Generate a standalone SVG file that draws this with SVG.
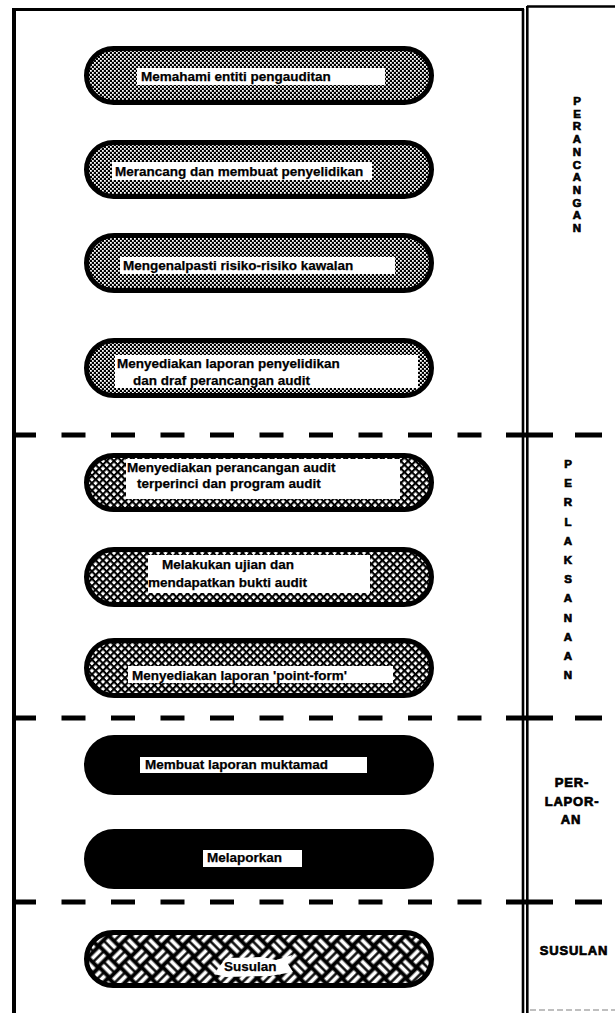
<svg xmlns="http://www.w3.org/2000/svg" width="615" height="1013" viewBox="0 0 615 1013">
  <defs>
    <!-- fine dither used for planning stages -->
    <pattern id="dither" width="4" height="4" patternUnits="userSpaceOnUse">
      <rect width="4" height="4" fill="#000"/>
      <rect x="0" y="0" width="1.8" height="1.8" fill="#fff"/>
      <rect x="2" y="2" width="1.8" height="1.8" fill="#fff"/>
    </pattern>
    <!-- diamond crosshatch used for execution stages -->
    <pattern id="hatch" width="5.2" height="5.2" patternUnits="userSpaceOnUse" patternTransform="rotate(45)">
      <rect width="5.2" height="5.2" fill="#fff"/>
      <rect x="0" y="0" width="5.2" height="2.1" fill="#000"/>
      <rect x="0" y="0" width="2.1" height="5.2" fill="#000"/>
    </pattern>
    <!-- basket weave used for follow-up stage -->
    <pattern id="weave" width="30" height="30" patternUnits="userSpaceOnUse" patternTransform="translate(3,2) rotate(45)">
      <rect width="30" height="30" fill="#000"/>
      <g fill="#fff">
        <rect x="1.5" y="2.5" width="12" height="3.8"/>
        <rect x="1.5" y="8.7" width="12" height="3.8"/>
        <rect x="17.5" y="1.5" width="3.8" height="12"/>
        <rect x="23.7" y="1.5" width="3.8" height="12"/>
        <rect x="2.5" y="16.5" width="3.8" height="12"/>
        <rect x="8.7" y="16.5" width="3.8" height="12"/>
        <rect x="16.5" y="17.5" width="12" height="3.8"/>
        <rect x="16.5" y="23.7" width="12" height="3.8"/>
      </g>
    </pattern>
  </defs>
  <style>
    .pill { stroke: #000; stroke-width: 5; }
    .shadow { fill: #000; }
    .box { fill: #fff; }
    .t { font-family: "Liberation Sans", Arial, sans-serif; font-weight: bold; font-size: 13.5px; fill: #000; stroke: #000; stroke-width: 0.25; }
    .lab { font-family: "Liberation Sans", Arial, sans-serif; font-weight: bold; font-size: 11.5px; fill: #000; stroke: #000; stroke-width: 0.7; text-anchor: middle; }
    .lab2 { font-family: "Liberation Sans", Arial, sans-serif; font-weight: bold; font-size: 13px; letter-spacing: 0.8px; fill: #000; stroke: #000; stroke-width: 0.7; text-anchor: middle; }
    .sep { stroke: #000; stroke-width: 5; }
  </style>

  <rect width="615" height="1013" fill="#fff"/>

  <!-- outer frame and column divider -->
  <g id="frame" fill="none" stroke="#000">
    <line x1="14" y1="8" x2="14" y2="1013" stroke-width="4"/>
    <line x1="12" y1="9.5" x2="524" y2="9.5" stroke-width="3"/>
    <line x1="523" y1="9" x2="523" y2="1013" stroke-width="2.6"/>
    <line x1="527.3" y1="6" x2="527.3" y2="1013" stroke-width="2.6"/>
    <line x1="527" y1="6.5" x2="615" y2="6.5" stroke-width="2.5"/>
    <line x1="530" y1="1010" x2="615" y2="1010" stroke="#aaa" stroke-width="1.5" stroke-dasharray="6 3"/>
  </g>

  <!-- dashed stage separators -->
  <g id="separators">
    <line class="sep" x1="12" y1="435" x2="500" y2="435" stroke-dasharray="24 25.5"/>
    <line class="sep" x1="506" y1="435" x2="553" y2="435"/>
    <line class="sep" x1="575" y1="435" x2="602" y2="435"/>
    <line class="sep" x1="12" y1="718" x2="500" y2="718" stroke-dasharray="24 25.5"/>
    <line class="sep" x1="506" y1="718" x2="553" y2="718"/>
    <line class="sep" x1="575" y1="718" x2="602" y2="718"/>
    <line class="sep" x1="12" y1="902" x2="500" y2="902" stroke-dasharray="24 25.5"/>
    <line class="sep" x1="506" y1="902" x2="553" y2="902"/>
    <line class="sep" x1="575" y1="902" x2="602" y2="902"/>
  </g>

  <g id="connectors"/>

  <g id="n1">
    <rect class="shadow" x="86.5" y="50" width="345" height="54" rx="27"/>
    <rect class="pill" fill="url(#dither)" x="86.5" y="48.5" width="345" height="54" rx="27"/>
    <rect class="box" x="137" y="68" width="248" height="17"/>
    <text class="t" x="141" y="81">Memahami entiti pengauditan</text>
  </g>

  <g id="n2">
    <rect class="shadow" x="86.5" y="144" width="345" height="54" rx="27"/>
    <rect class="pill" fill="url(#dither)" x="86.5" y="142.5" width="345" height="54" rx="27"/>
    <rect class="box" x="112" y="162" width="260" height="18"/>
    <text class="t" x="115" y="176">Merancang dan membuat penyelidikan</text>
  </g>

  <g id="n3">
    <rect class="shadow" x="86.5" y="237" width="345" height="55" rx="27.5"/>
    <rect class="pill" fill="url(#dither)" x="86.5" y="235.5" width="345" height="55" rx="27.5"/>
    <rect class="box" x="120" y="257" width="275" height="17"/>
    <text class="t" x="123" y="270">Mengenalpasti risiko-risiko kawalan</text>
  </g>

  <g id="n4">
    <rect class="shadow" x="86.5" y="342" width="345" height="55" rx="27.5"/>
    <rect class="pill" fill="url(#dither)" x="86.5" y="340.5" width="345" height="55" rx="27.5"/>
    <rect class="box" x="115" y="355" width="303" height="33"/>
    <text class="t" x="117" y="368">Menyediakan laporan penyelidikan</text>
    <text class="t" x="133" y="385">dan draf perancangan audit</text>
  </g>

  <g id="n5">
    <rect class="shadow" x="86.5" y="457" width="345" height="54" rx="27"/>
    <rect class="pill" fill="url(#hatch)" x="86.5" y="455.5" width="345" height="54" rx="27"/>
    <rect class="box" x="126" y="459" width="274" height="40"/>
    <text class="t" x="127" y="472">Menyediakan perancangan audit</text>
    <text class="t" x="137" y="488">terperinci dan program audit</text>
  </g>

  <g id="n6">
    <rect class="shadow" x="86.5" y="551" width="345" height="55" rx="27.5"/>
    <rect class="pill" fill="url(#hatch)" x="86.5" y="549.5" width="345" height="55" rx="27.5"/>
    <rect class="box" x="148" y="555" width="222" height="38"/>
    <text class="t" x="162" y="569">Melakukan ujian dan</text>
    <text class="t" x="148" y="587">mendapatkan bukti audit</text>
  </g>

  <g id="n7">
    <rect class="shadow" x="86.5" y="642" width="345" height="55" rx="27.5"/>
    <rect class="pill" fill="url(#hatch)" x="86.5" y="640.5" width="345" height="55" rx="27.5"/>
    <rect class="box" x="128" y="666" width="265" height="17"/>
    <text class="t" x="132" y="680">Menyediakan laporan 'point-form'</text>
  </g>

  <g id="n8">
    <rect class="shadow" x="86.5" y="739" width="345" height="55" rx="27.5"/>
    <rect class="pill" fill="#000" x="86.5" y="737.5" width="345" height="55" rx="27.5"/>
    <rect class="box" x="140" y="757" width="227" height="16"/>
    <text class="t" x="145" y="769">Membuat laporan muktamad</text>
  </g>

  <g id="n9">
    <rect class="shadow" x="86.5" y="833" width="345" height="55" rx="27.5"/>
    <rect class="pill" fill="#000" x="86.5" y="831.5" width="345" height="55" rx="27.5"/>
    <rect class="box" x="203" y="850" width="99" height="17"/>
    <text class="t" x="207" y="862">Melaporkan</text>
  </g>

  <g id="n10">
    <rect class="shadow" x="86.5" y="934" width="345" height="53" rx="26.5"/>
    <rect class="pill" fill="url(#weave)" x="86.5" y="932.5" width="345" height="53" rx="26.5"/>
    <polygon class="box" points="219,967 226,958 262,957 276,960 292,955 288,964 293,972 270,976 226,977 214,974"/>
    <text class="t" font-size="13" x="224" y="971">Susulan</text>
  </g>

  <!-- stage labels in the right column -->
  <g id="lbl-perancangan">
    <text class="lab"><tspan x="577" y="105">P</tspan><tspan x="577" y="117.7">E</tspan><tspan x="577" y="130.4">R</tspan><tspan x="577" y="143.1">A</tspan><tspan x="577" y="155.8">N</tspan><tspan x="577" y="168.5">C</tspan><tspan x="577" y="181.2">A</tspan><tspan x="577" y="193.9">N</tspan><tspan x="577" y="206.6">G</tspan><tspan x="577" y="219.3">A</tspan><tspan x="577" y="232">N</tspan></text>
  </g>
  <g id="lbl-perlaksanaan">
    <text class="lab"><tspan x="568" y="468">P</tspan><tspan x="568" y="487.2">E</tspan><tspan x="568" y="506.4">R</tspan><tspan x="568" y="525.6">L</tspan><tspan x="568" y="544.8">A</tspan><tspan x="568" y="564">K</tspan><tspan x="568" y="583.2">S</tspan><tspan x="568" y="602.4">A</tspan><tspan x="568" y="621.6">N</tspan><tspan x="568" y="640.8">A</tspan><tspan x="568" y="660">A</tspan><tspan x="568" y="679.2">N</tspan></text>
  </g>
  <g id="lbl-perlaporan">
    <text class="lab2" x="572" y="787">PER-</text>
    <text class="lab2" x="572" y="806">LAPOR-</text>
    <text class="lab2" x="571" y="824">AN</text>
  </g>
  <g id="lbl-susulan">
    <text class="lab2" x="574" y="955">SUSULAN</text>
  </g>
</svg>
